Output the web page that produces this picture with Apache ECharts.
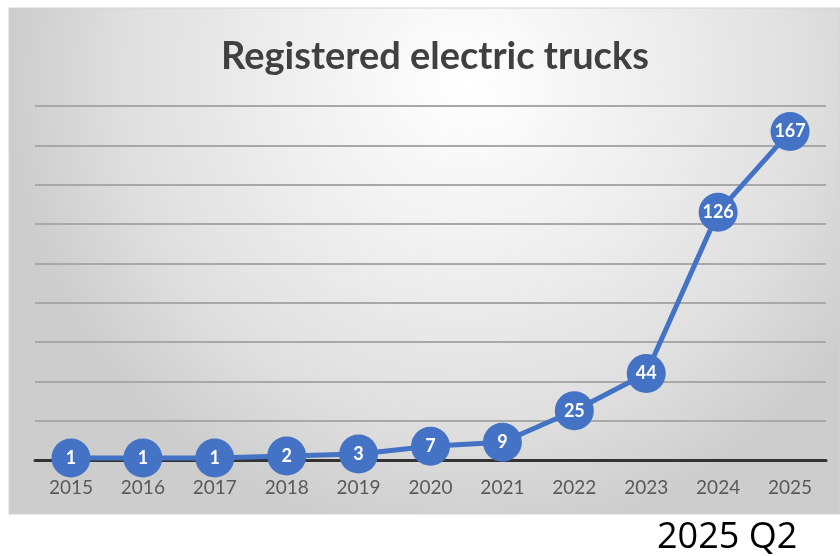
<!DOCTYPE html>
<html>
<head>
<meta charset="utf-8">
<script src="https://cdn.jsdelivr.net/npm/echarts@6/dist/echarts.min.js"></script>
<style>html,body{margin:0;padding:0;background:#fff}#c{width:840px;height:556px}</style>
</head>
<body>
<div id="c"></div>
<script>
const categories = ['2015','2016','2017','2018','2019','2020','2021','2022','2023','2024','2025'];
const trucks = [1,1,1,2,3,7,9,25,44,126,167];
const titleText = 'Registered electric trucks';
const noteText = '2025 Q2';

const chart = echarts.init(document.getElementById('c'));
chart.setOption({
  animation: false,
  graphic: [
    {
      type: 'rect', z: -10, silent: true,
      shape: { x: 9, y: 8, width: 831, height: 506 },
      style: {
        fill: {
          type: 'radial', x: 0.55, y: 0.15, r: 0.9,
          colorStops: [
            { offset: 0, color: '#ffffff' },
            { offset: 0.35, color: '#f1f1f1' },
            { offset: 0.75, color: '#dfdfdf' },
            { offset: 1, color: '#cdcdcd' }
          ]
        },
        stroke: '#d4d4d4', lineWidth: 1
      }
    },
    {
      type: 'text', left: 657, top: 520,
      style: { text: noteText, font: '36px "Open Sans", sans-serif', fill: '#000' }
    }
  ],
  title: {
    text: titleText, left: 430, textAlign: 'center', top: 33,
    textStyle: { fontFamily: 'Lato', fontWeight: 'bold', fontSize: 38, color: '#404040' }
  },
  grid: { left: 35, right: 14, top: 106, bottom: 96 },
  xAxis: {
    type: 'category', data: categories, boundaryGap: true,
    axisLine: { lineStyle: { color: '#333', width: 3 } },
    axisTick: { show: false },
    axisLabel: { color: '#595959', fontSize: 19, fontFamily: 'Lato', margin: 18 }
  },
  yAxis: {
    type: 'value', min: 0, max: 180, interval: 20,
    axisLabel: { show: false }, axisLine: { show: false }, axisTick: { show: false },
    splitLine: { lineStyle: { color: '#a8a8a8', width: 2 } }
  },
  series: [{
    type: 'line', data: trucks,
    symbol: 'circle', symbolSize: 39,
    lineStyle: { color: '#4472C4', width: 5 },
    itemStyle: { color: '#4472C4' },
    label: { show: true, position: 'inside', color: '#fff', fontWeight: 'bold', fontSize: 18, fontFamily: 'Lato' }
  }]
});
</script>
</body>
</html>
